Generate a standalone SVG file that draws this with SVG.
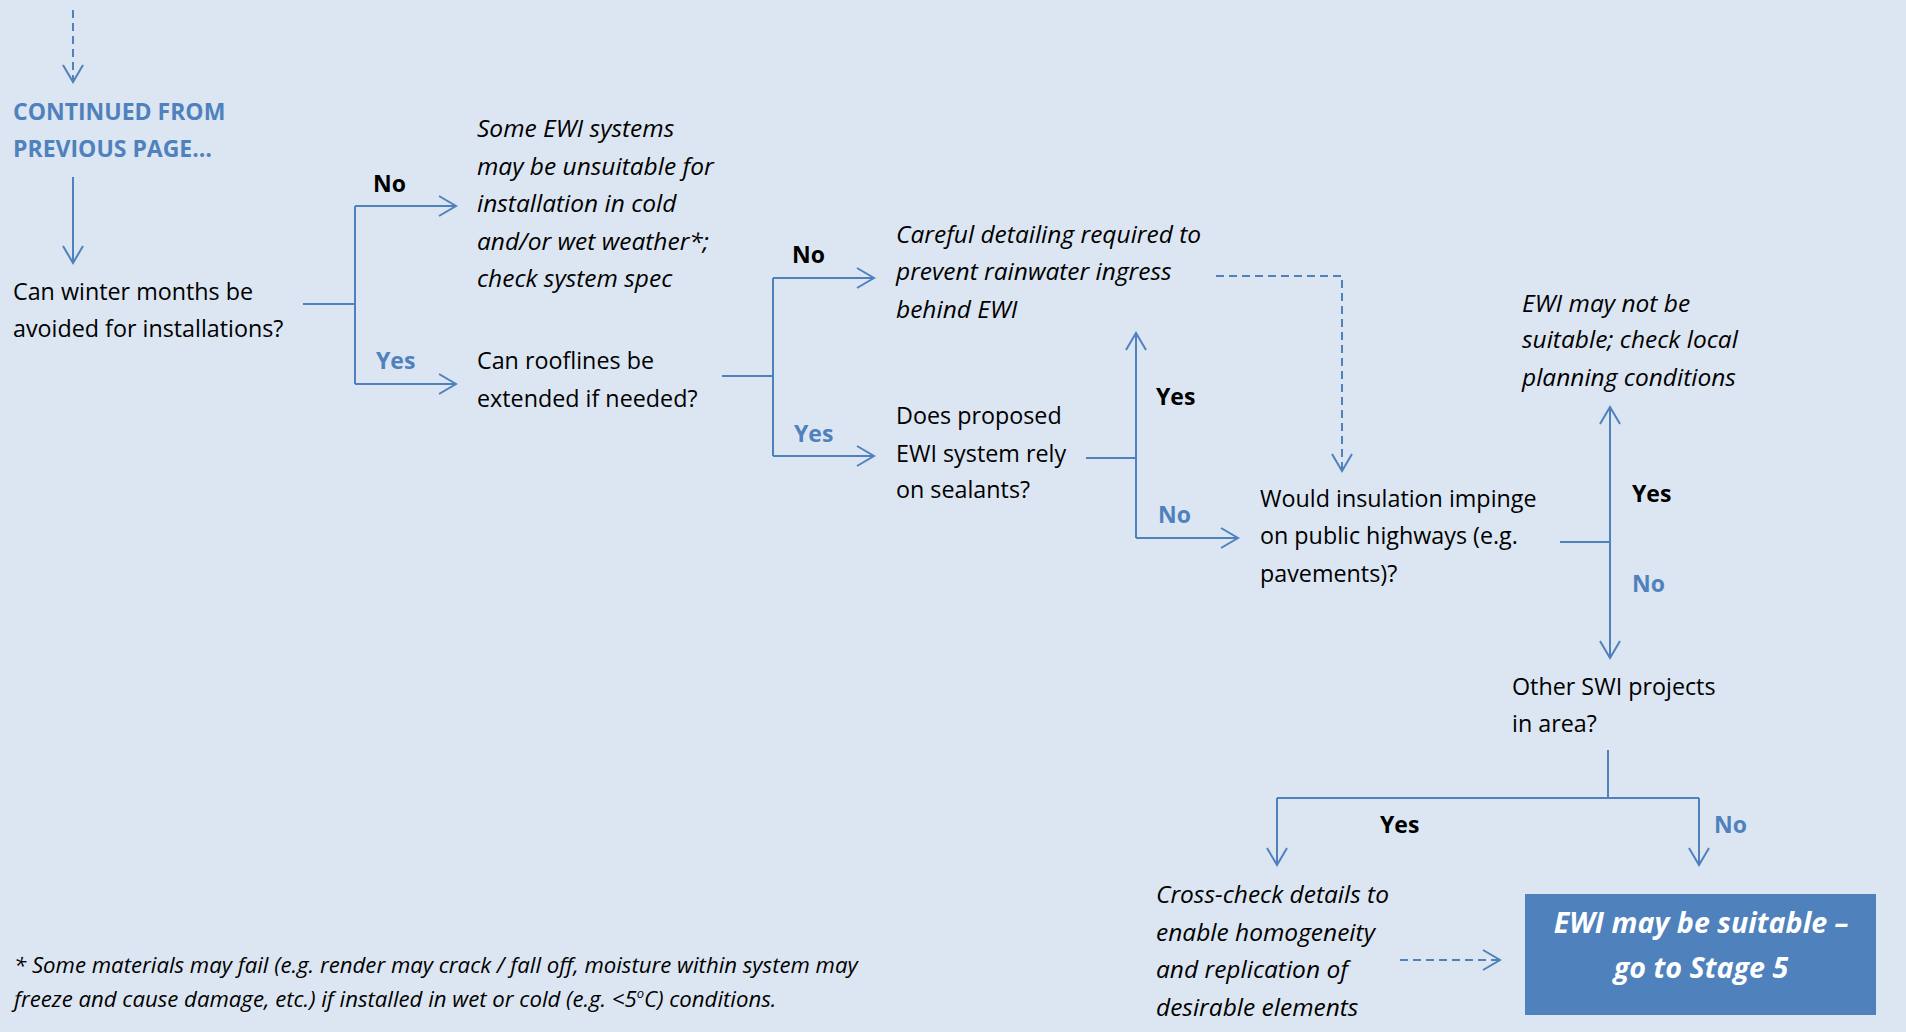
<svg xmlns="http://www.w3.org/2000/svg" width="1906" height="1032" viewBox="0 0 1906 1032">
  <style>
    .body { font-family: "Open Sans", "Liberation Sans", sans-serif; font-size: 23.3px; fill: #000; }
    .note { font-style: italic; font-size: 24.5px; }
    .lbl { font-family: "Open Sans", "Liberation Sans", sans-serif; font-size: 23px; font-weight: bold; }
    .blk { fill: #000; }
    .blue { fill: #4F81BD; }
    .foot { font-family: "Open Sans", "Liberation Sans", sans-serif; font-size: 22.2px; font-style: italic; fill: #000; }
    .end { font-family: "Open Sans", "Liberation Sans", sans-serif; font-size: 28.7px; font-weight: bold; font-style: italic; fill: #fff; }
    .ln { fill: none; stroke: #4F81BD; stroke-width: 2; }
    .dash { stroke-dasharray: 8 5; }
  </style>
  <defs>
    <marker id="arrow" markerUnits="userSpaceOnUse" viewBox="-20 -12 24 24" refX="0" refY="0" markerWidth="24" markerHeight="24" orient="auto">
      <path d="M-17,-10 L0,0 L-17,10" fill="none" stroke="#4F81BD" stroke-width="2"/>
    </marker>
  </defs>

  <rect x="0" y="0" width="1906" height="1032" fill="#DCE6F2"/>

  <!-- connectors -->
  <g id="connectors">
    <path class="ln dash" d="M73,10 V82" marker-end="url(#arrow)"/>
    <path class="ln" d="M73,177 V263" marker-end="url(#arrow)"/>

    <!-- winter months? -->
    <path class="ln" d="M303,304 H355"/>
    <path class="ln" d="M355,206 V384"/>
    <path class="ln" d="M355,206 H456" marker-end="url(#arrow)"/>
    <path class="ln" d="M355,384 H456" marker-end="url(#arrow)"/>

    <!-- rooflines? -->
    <path class="ln" d="M722,376 H773"/>
    <path class="ln" d="M773,278 V456"/>
    <path class="ln" d="M773,278 H874" marker-end="url(#arrow)"/>
    <path class="ln" d="M773,456 H874" marker-end="url(#arrow)"/>

    <!-- careful detailing -> highways -->
    <path class="ln dash" d="M1216,276 H1342 V471" marker-end="url(#arrow)"/>

    <!-- sealants? -->
    <path class="ln" d="M1086,458 H1136"/>
    <path class="ln" d="M1136,538 V333" marker-end="url(#arrow)"/>
    <path class="ln" d="M1136,538 H1238" marker-end="url(#arrow)"/>

    <!-- highways? -->
    <path class="ln" d="M1560,542 H1610"/>
    <path class="ln" d="M1610,542 V407" marker-end="url(#arrow)"/>
    <path class="ln" d="M1610,542 V658" marker-end="url(#arrow)"/>

    <!-- other SWI projects? -->
    <path class="ln" d="M1608,750 V798"/>
    <path class="ln" d="M1277,798 H1699"/>
    <path class="ln" d="M1277,798 V865" marker-end="url(#arrow)"/>
    <path class="ln" d="M1699,798 V865" marker-end="url(#arrow)"/>

    <!-- cross-check -> stage 5 -->
    <path class="ln dash" d="M1400,960 H1500" marker-end="url(#arrow)"/>

    <!-- branch labels -->
    <text class="lbl blk" x="373" y="192">No</text>
    <text class="lbl blue" x="376" y="369">Yes</text>
    <text class="lbl blk" x="792" y="263">No</text>
    <text class="lbl blue" x="794" y="442">Yes</text>
    <text class="lbl blk" x="1156" y="405">Yes</text>
    <text class="lbl blue" x="1158" y="523">No</text>
    <text class="lbl blk" x="1632" y="502">Yes</text>
    <text class="lbl blue" x="1632" y="592">No</text>
    <text class="lbl blk" x="1380" y="833">Yes</text>
    <text class="lbl blue" x="1714" y="833">No</text>
  </g>

  <!-- nodes -->
  <g id="continued">
    <text class="lbl blue" x="13" y="120">CONTINUED FROM</text>
    <text class="lbl blue" x="13" y="157">PREVIOUS PAGE…</text>
  </g>

  <g id="q-winter">
    <text class="body" x="13" y="300">Can winter months be</text>
    <text class="body" x="13" y="337">avoided for installations?</text>
  </g>

  <g id="n-cold-weather">
    <text class="body note" x="477" y="137">Some EWI systems</text>
    <text class="body note" x="477" y="175">may be unsuitable for</text>
    <text class="body note" x="477" y="212">installation in cold</text>
    <text class="body note" x="477" y="250">and/or wet weather*;</text>
    <text class="body note" x="477" y="287">check system spec</text>
  </g>

  <g id="q-rooflines">
    <text class="body" x="477" y="369">Can rooflines be</text>
    <text class="body" x="477" y="407">extended if needed?</text>
  </g>

  <g id="n-rainwater">
    <text class="body note" x="896" y="243">Careful detailing required to</text>
    <text class="body note" x="896" y="280">prevent rainwater ingress</text>
    <text class="body note" x="896" y="318">behind EWI</text>
  </g>

  <g id="q-sealants">
    <text class="body" x="896" y="424">Does proposed</text>
    <text class="body" x="896" y="462">EWI system rely</text>
    <text class="body" x="896" y="498">on sealants?</text>
  </g>

  <g id="q-highways">
    <text class="body" x="1260" y="507">Would insulation impinge</text>
    <text class="body" x="1260" y="544">on public highways (e.g.</text>
    <text class="body" x="1260" y="582">pavements)?</text>
  </g>

  <g id="n-planning">
    <text class="body note" x="1522" y="312">EWI may not be</text>
    <text class="body note" x="1522" y="348">suitable; check local</text>
    <text class="body note" x="1522" y="386">planning conditions</text>
  </g>

  <g id="q-other-swi">
    <text class="body" x="1512" y="695">Other SWI projects</text>
    <text class="body" x="1512" y="732">in area?</text>
  </g>

  <g id="n-cross-check">
    <text class="body note" x="1156" y="903">Cross-check details to</text>
    <text class="body note" x="1156" y="941">enable homogeneity</text>
    <text class="body note" x="1156" y="978">and replication of</text>
    <text class="body note" x="1156" y="1016">desirable elements</text>
  </g>

  <g id="n-stage5">
    <rect x="1525" y="894" width="351" height="121" fill="#4F81BD"/>
    <text class="end" x="1701" y="933" text-anchor="middle">EWI may be suitable –</text>
    <text class="end" x="1701" y="978" text-anchor="middle">go to Stage 5</text>
  </g>

  <g id="footnote">
    <text class="foot" x="14" y="973">* Some materials may fail (e.g. render may crack / fall off, moisture within system may</text>
    <text class="foot" x="14" y="1007">freeze and cause damage, etc.) if installed in wet or cold (e.g. &lt;5<tspan dy="-9" font-size="13">o</tspan><tspan dy="9">C) conditions.</tspan></text>
  </g>
</svg>
